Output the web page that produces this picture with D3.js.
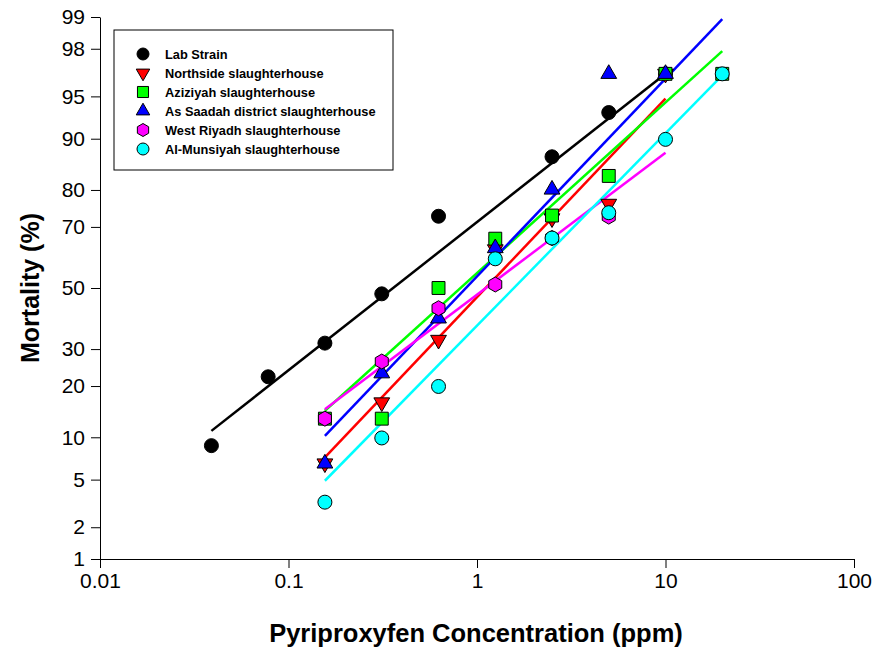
<!DOCTYPE html>
<html>
<head>
<meta charset="utf-8">
<script src="https://cdn.jsdelivr.net/npm/d3@7"></script>
<style>
  body { margin: 0; background: #fff; }
  text { font-family: Arial, "Liberation Sans", sans-serif; }
</style>
</head>
<body>
<script>
var w = 875;
var h = 649;

// tick labels
var xTicks = [0.01, 0.1, 1, 10, 100];
var yTicks = [1, 2, 5, 10, 20, 30, 50, 70, 80, 90, 95, 98, 99];

// series names, colours, symbols
var names = ["Lab Strain", "Northside slaughterhouse", "Aziziyah slaughterhouse",
             "As Saadah district slaughterhouse", "West Riyadh slaughterhouse", "Al-Munsiyah slaughterhouse"];
var colors = ["#000000", "#ff0000", "#00ff00", "#0000ff", "#ff00ff", "#00ffff"];
var symbols = ["circle", "triDown", "square", "triUp", "hexagon", "circle"];

// doses (ppm) and mortality (%) per population
var labDose = [0.039, 0.078, 0.156, 0.3125, 0.625, 2.5, 5, 10];
var labMort = [8.8, 22.3, 31.8, 48, 73.1, 87, 93.4, 96.7];
var northDose = [0.156, 0.3125, 0.625, 1.25, 2.5, 5, 10];
var northMort = [6.6, 16.3, 32.8, 63, 72.5, 76.5, 96.7];
var azizDose = [0.156, 0.3125, 0.625, 1.25, 2.5, 5, 10, 20];
var azizMort = [13.1, 13.1, 50, 66.4, 73.3, 83.2, 96.7, 96.7];
var saadDose = [0.156, 0.3125, 0.625, 1.25, 2.5, 5, 10];
var saadMort = [6.6, 23.2, 39.7, 63.4, 80.1, 96.7, 96.7];
var westDose = [0.156, 0.3125, 0.625, 1.25, 2.5, 5];
var westMort = [13.1, 26.4, 43.1, 51.2, 66.6, 73];
var munsDose = [0.156, 0.3125, 0.625, 1.25, 2.5, 5, 10, 20];
var munsMort = [3.3, 9.9, 19.9, 59.9, 66.6, 74.1, 89.9, 96.7];

// fitted probit lines: [dose, mortality] at both ends
var labFit = [[0.039, 11.0], [10, 96.7]];
var northFit = [[0.156, 7.3], [10, 94.8]];
var azizFit = [[0.156, 14.6], [20, 97.9]];
var saadFit = [[0.156, 10.2], [20, 98.95]];
var westFit = [[0.156, 14.9], [10, 87.7]];
var munsFit = [[0.156, 4.9], [20, 96.6]];

var doses = [labDose, northDose, azizDose, saadDose, westDose, munsDose];
var morts = [labMort, northMort, azizMort, saadMort, westMort, munsMort];
var fits = [labFit, northFit, azizFit, saadFit, westFit, munsFit];

// inverse normal cdf (Acklam)
function probit(p) {
    var a = [-39.69683028665376, 220.9460984245205, -275.9285104469687, 138.3577518672690, -30.66479806614716, 2.506628277459239];
    var b = [-54.47609879822406, 161.5858368580409, -155.6989798598866, 66.80131188771972, -13.28068155288572];
    var c = [-0.007784894002430293, -0.3223964580411365, -2.400758277161838, -2.549732539343734, 4.374664141464968, 2.938163982698783];
    var d = [0.007784695709041462, 0.3224671290700398, 2.445134137142996, 3.754408661907416];
    var q, r;
    if (p < 0.02425) {
        q = Math.sqrt(-2 * Math.log(p));
        return (((((c[0]*q+c[1])*q+c[2])*q+c[3])*q+c[4])*q+c[5]) / ((((d[0]*q+d[1])*q+d[2])*q+d[3])*q+1);
    } else if (p > 1 - 0.02425) {
        q = Math.sqrt(-2 * Math.log(1 - p));
        return -(((((c[0]*q+c[1])*q+c[2])*q+c[3])*q+c[4])*q+c[5]) / ((((d[0]*q+d[1])*q+d[2])*q+d[3])*q+1);
    }
    q = p - 0.5; r = q * q;
    return (((((a[0]*r+a[1])*r+a[2])*r+a[3])*r+a[4])*r+a[5])*q / (((((b[0]*r+b[1])*r+b[2])*r+b[3])*r+b[4])*r+1);
}

var x = d3.scaleLog().domain([0.01, 100]).range([100, 854]);
var yz = d3.scaleLinear().domain([probit(0.01), probit(0.99)]).range([559, 17]);
function y(m) { return yz(probit(m / 100)); }

var svg = d3.select("body")
    .append("svg")
    .attr("width", w)
    .attr("height", h);

// axes
var xAxis = d3.axisBottom(x)
    .tickValues(xTicks)
    .tickFormat(function(d) { return String(d); })
    .tickSize(9)
    .tickSizeOuter(0)
    .tickPadding(5);
svg.append("g")
    .attr("class", "axis")
    .attr("transform", "translate(0,559)")
    .call(xAxis);

var yAxis = d3.axisLeft(yz)
    .tickValues(yTicks.map(function(v) { return probit(v / 100); }))
    .tickFormat(function(d, i) { return yTicks[i]; })
    .tickSize(9)
    .tickSizeOuter(0)
    .tickPadding(6);
svg.append("g")
    .attr("class", "axis")
    .attr("transform", "translate(100,0)")
    .call(yAxis);

svg.selectAll(".tick text")
    .attr("font-size", 21)
    .attr("font-family", "Arial, 'Liberation Sans', sans-serif")
    .attr("fill", "#000");
svg.selectAll(".domain, .tick line").attr("stroke", "#000").attr("stroke-width", 1);

svg.append("text")
    .attr("x", 476).attr("y", 642)
    .attr("text-anchor", "middle")
    .attr("font-size", 25.5).attr("font-weight", "bold")
    .text("Pyriproxyfen Concentration (ppm)");
svg.append("text")
    .attr("transform", "translate(39,288) rotate(-90)")
    .attr("text-anchor", "middle")
    .attr("font-size", 25).attr("font-weight", "bold")
    .text("Mortality (%)");

// fitted lines
var lineFun = d3.line()
    .x(function(d) { return x(d[0]); })
    .y(function(d) { return y(d[1]); });

fits.forEach(function(f, i) {
    svg.append("path")
        .attr("d", lineFun(f))
        .attr("stroke", colors[i])
        .attr("stroke-width", 2.5)
        .attr("fill", "none");
});

// marker shapes
function symbolPath(type, s) {
    if (type === "circle") return d3.symbol(d3.symbolCircle, s * s * Math.PI / 4)();
    if (type === "square") return d3.symbol(d3.symbolSquare, s * s * 0.85)();
    if (type === "triUp" || type === "triDown") return d3.symbol(d3.symbolTriangle, s * s * 0.55)();
    if (type === "hexagon") {
        var r = s / 2 + 0.5, pts = [];
        for (var k = 0; k < 6; k++) {
            var a = Math.PI / 6 + k * Math.PI / 3;
            pts.push([r * Math.cos(a), r * Math.sin(a)]);
        }
        return "M" + pts.join("L") + "Z";
    }
}

function drawMarker(g, type, color, cx, cy, s) {
    g.append("path")
        .attr("d", symbolPath(type, s))
        .attr("transform", "translate(" + cx + "," + cy + ")" + (type === "triDown" ? " rotate(180)" : ""))
        .attr("fill", color)
        .attr("stroke", "#000")
        .attr("stroke-width", 1);
}

var pts = svg.append("g");
doses.forEach(function(ds, i) {
    ds.forEach(function(dv, j) {
        drawMarker(pts, symbols[i], colors[i], x(dv), y(morts[i][j]), 14);
    });
});

// legend
var legend = svg.append("g");
legend.append("rect")
    .attr("x", 114).attr("y", 30)
    .attr("width", 279).attr("height", 140)
    .attr("fill", "#fff")
    .attr("stroke", "#000")
    .attr("stroke-width", 1);
names.forEach(function(n, i) {
    var ly = 54 + i * 19;
    drawMarker(legend, symbols[i], colors[i], 143, ly, 12);
    legend.append("text")
        .attr("x", 165).attr("y", ly + 4.5)
        .attr("font-size", 12.8).attr("font-weight", "bold")
        .text(n);
});
</script>
</body>
</html>
